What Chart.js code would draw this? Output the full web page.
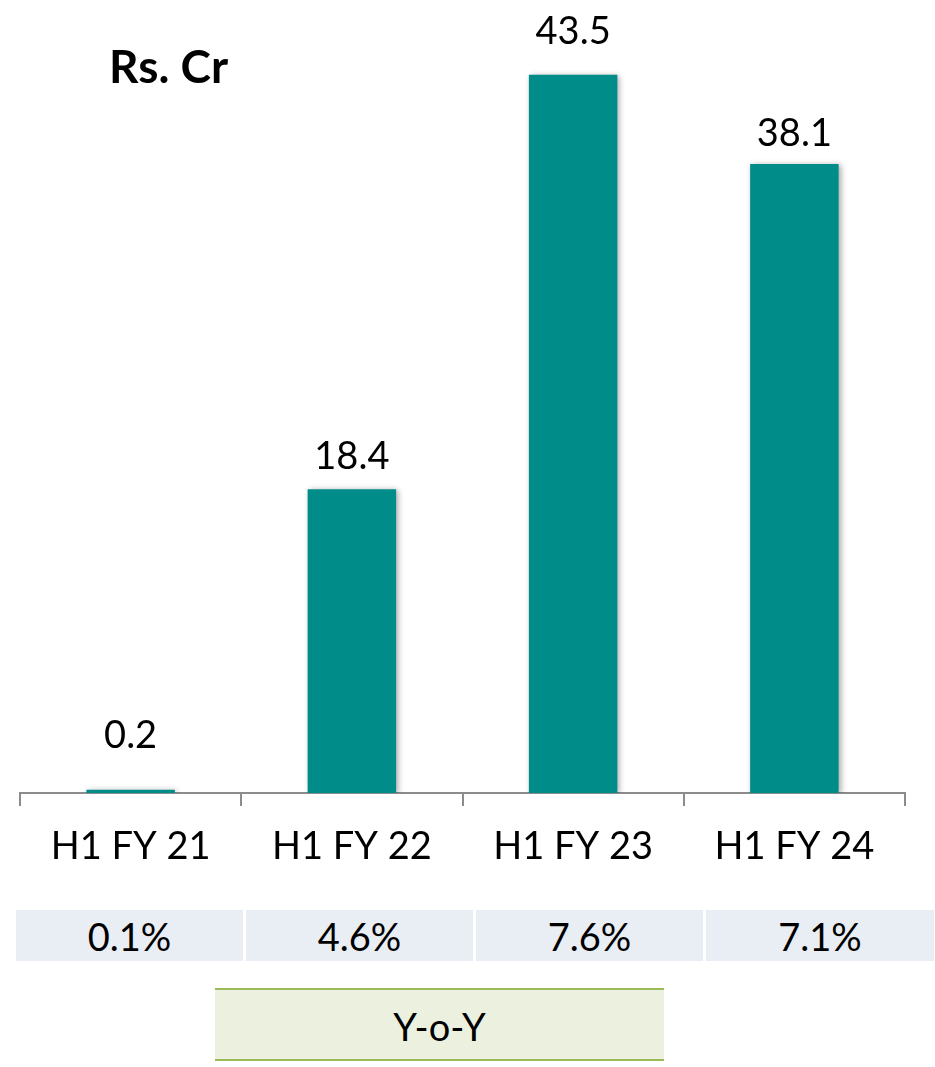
<!DOCTYPE html>
<html>
<head>
<meta charset="utf-8">
<script src="https://cdn.jsdelivr.net/npm/chart.js@4/dist/chart.umd.min.js"></script>
<style>
  html, body { margin: 0; padding: 0; background: #fff; }
  body { width: 935px; height: 1067px; position: relative; overflow: hidden; font-family: Lato, "Open Sans", sans-serif; }
  #wrap { position: absolute; left: 0; top: 0; width: 935px; height: 870px; }
  #title { position: absolute; left: 109px; top: 40px; font-size: 46px; font-weight: bold; color: #000; line-height: 52px; }
  .cell { position: absolute; top: 910px; height: 51px; background: #e9edf4; font-size: 38px; line-height: 53px; text-align: center; color: #000; }
  #yoy { position: absolute; left: 215px; top: 988px; width: 449px; height: 69px; background: #ebf1de; border-top: 2px solid #9bbb59; border-bottom: 2px solid #9bbb59; font-size: 38px; line-height: 72px; text-align: center; color: #000; }
</style>
</head>
<body>
<div id="wrap"><canvas id="c"></canvas></div>
<div id="title">Rs. Cr</div>
<div id="table"></div>
<div id="yoy">Y-o-Y</div>
<script>
const categories = ["H1 FY 21", "H1 FY 22", "H1 FY 23", "H1 FY 24"];
const values = [0.2, 18.4, 43.5, 38.1];
const valueLabels = ["0.2", "18.4", "43.5", "38.1"];
const yoyLabels = ["0.1%", "4.6%", "7.6%", "7.1%"];

// table cells (layout only)
const cellLefts = [16, 246, 476, 706];
const cellWidth = 227;
const table = document.getElementById('table');
yoyLabels.forEach((t, i) => {
  const d = document.createElement('div');
  d.className = 'cell';
  d.style.left = cellLefts[i] + 'px';
  d.style.width = (i === 3 ? 228 : cellWidth) + 'px';
  d.textContent = t;
  table.appendChild(d);
});

const labelGaps = [42, 20, 31, 18];

const valueLabelPlugin = {
  id: 'valueLabels',
  beforeDatasetsDraw(chart) {
    const ctx = chart.ctx;
    ctx.save();
    ctx.shadowColor = 'rgba(0,0,0,0.35)';
    ctx.shadowBlur = 6;
    ctx.shadowOffsetX = 2;
    ctx.shadowOffsetY = 1;
  },
  afterDatasetsDraw(chart) {
    const ctx = chart.ctx;
    ctx.restore();
    const meta = chart.getDatasetMeta(0);
    ctx.save();
    ctx.font = '38px Lato, "Open Sans", sans-serif';
    ctx.fillStyle = '#000';
    ctx.textAlign = 'center';
    ctx.textBaseline = 'alphabetic';
    meta.data.forEach((bar, i) => {
      ctx.fillText(valueLabels[i], bar.x, bar.y - labelGaps[i]);
    });
    ctx.restore();
  }
};

new Chart(document.getElementById('c'), {
  type: 'bar',
  data: {
    labels: categories,
    datasets: [{
      data: values,
      backgroundColor: '#008C88',
      borderWidth: 0,
      barPercentage: 0.4,
      categoryPercentage: 1.0
    }]
  },
  options: {
    responsive: true,
    maintainAspectRatio: false,
    animation: false,
    layout: { padding: { left: 20, right: 30, top: 17, bottom: 0 } },
    plugins: { legend: { display: false }, tooltip: { enabled: false } },
    scales: {
      y: { display: false, min: 0, max: 47 },
      x: {
        afterFit(s) { s.height = 77; },
        grid: { display: true, offset: true, drawOnChartArea: false, drawTicks: true, tickLength: 13, color: '#8c8c8c', lineWidth: 2 },
        border: { display: true, color: '#8c8c8c', width: 2 },
        ticks: { color: '#000', font: { family: 'Lato, "Open Sans", sans-serif', size: 38 }, padding: 18 }
      }
    }
  },
  plugins: [valueLabelPlugin]
});
</script>
</body>
</html>
